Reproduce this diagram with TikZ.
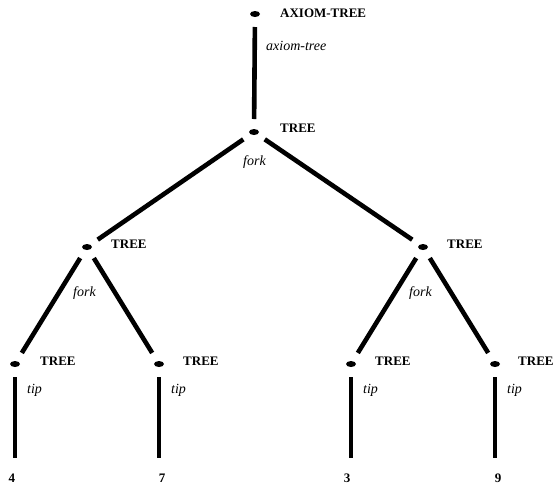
\documentclass[tikz,border=0pt]{standalone}
\usepackage{fontspec}
\setmainfont{Liberation Serif}
\usetikzlibrary{shapes.geometric}
\begin{document}
\begin{tikzpicture}[x=1pt,y=-1pt,
  dot/.style={ellipse,fill=black,minimum width=10pt,minimum height=6pt,inner sep=0pt},
  edge/.style={line width=4.6pt,shorten <=13pt,shorten >=13pt},
  leafedge/.style={line width=4.6pt,shorten <=13pt,shorten >=15.5pt},
  cat/.style={anchor=base west,inner sep=0pt,font=\fontsize{13}{15}\selectfont\bfseries},
  rule/.style={anchor=base west,inner sep=0pt,font=\fontsize{14}{16}\selectfont\itshape},
  leaf/.style={anchor=base,inner sep=0pt,font=\fontsize{13}{15}\selectfont\bfseries}]
\useasboundingbox (0,0) rectangle (559,488);
% dots
\node[dot] (r) at (255,14) {};
\node[dot] (t1) at (254,132) {};
\node[dot] (t2) at (87,247) {};
\node[dot] (t3) at (423,247) {};
\node[dot] (t4) at (15,364) {};
\node[dot] (t5) at (159,364) {};
\node[dot] (t6) at (351,364) {};
\node[dot] (t7) at (495,364) {};
% category labels
\node[cat] (lr) at (280,17) {AXIOM-TREE};
\node[cat] (l1) at (280,132) {TREE};
\node[cat] (l2) at (111,248) {TREE};
\node[cat] (l3) at (447,248) {TREE};
\node[cat] (l4) at (40,365) {TREE};
\node[cat] (l5) at (183,365) {TREE};
\node[cat] (l6) at (375,365) {TREE};
\node[cat] (l7) at (518,365) {TREE};
% rule labels
\node[rule] (ra) at (266,50) {axiom-tree};
\node[rule] (f1) at (243,165) {fork};
\node[rule] (f2) at (73,296) {fork};
\node[rule] (f3) at (409,296) {fork};
\node[rule] (p4) at (27,393) {tip};
\node[rule] (p5) at (171,393) {tip};
\node[rule] (p6) at (363,393) {tip};
\node[rule] (p7) at (507,393) {tip};
% leaves
\node[leaf] (v4) at (12,482) {4};
\node[leaf] (v7) at (162,482) {7};
\node[leaf] (v3) at (347,482) {3};
\node[leaf] (v9) at (498,482) {9};
% edges
\draw[edge] (r.center) -- (t1.center);
\draw[edge] (t1.center) -- (t2.center);
\draw[edge] (t1.center) -- (t3.center);
\draw[edge] (t2.center) -- (t4.center);
\draw[edge] (t2.center) -- (t5.center);
\draw[edge] (t3.center) -- (t6.center);
\draw[edge] (t3.center) -- (t7.center);
\draw[leafedge] (t4.center) -- (t4.center |- v4.north);
\draw[leafedge] (t5.center) -- (t5.center |- v7.north);
\draw[leafedge] (t6.center) -- (t6.center |- v3.north);
\draw[leafedge] (t7.center) -- (t7.center |- v9.north);
\end{tikzpicture}
\end{document}
